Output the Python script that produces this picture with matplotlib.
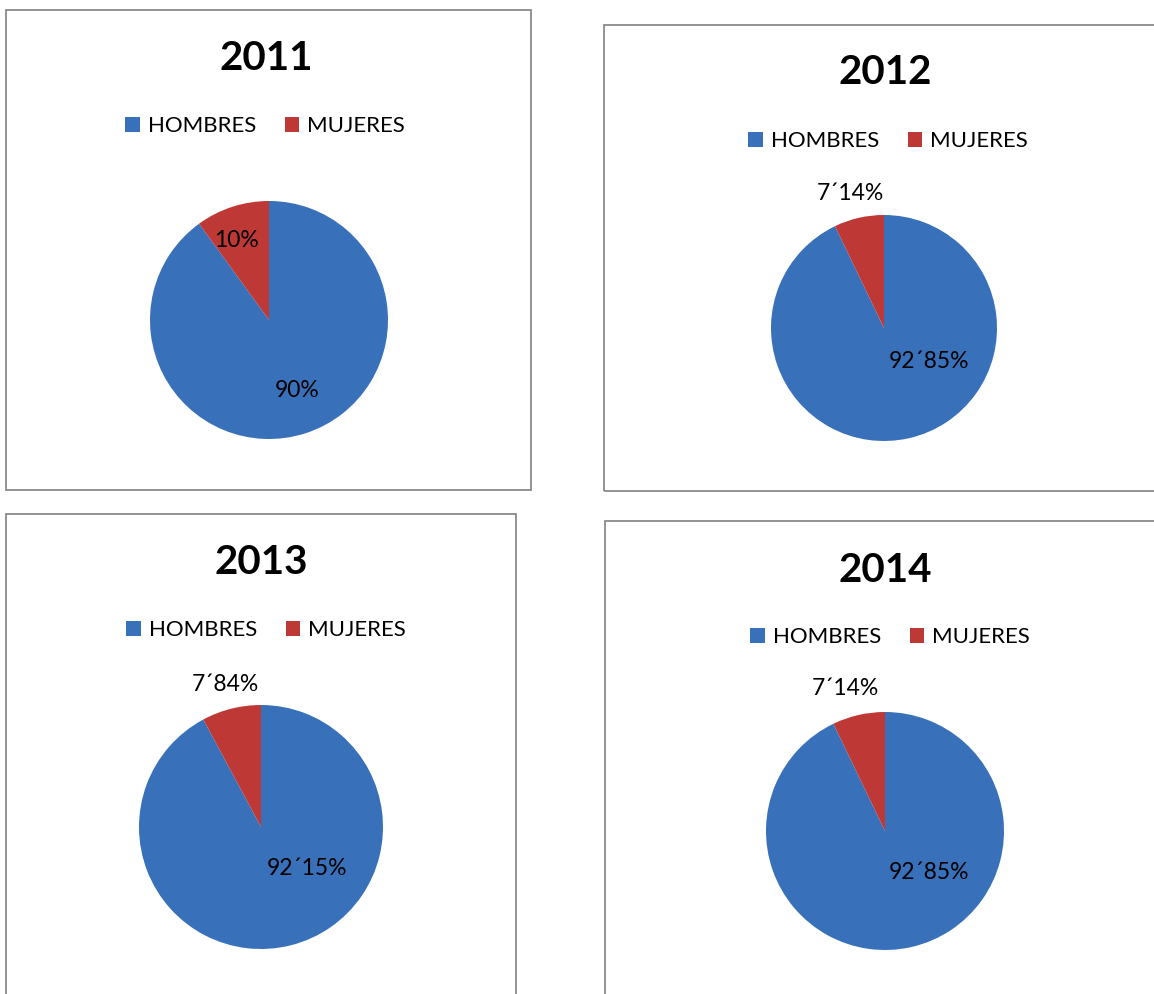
import matplotlib
matplotlib.use('Agg')
import matplotlib.pyplot as plt
from matplotlib.patches import Rectangle, Patch

plt.rcParams['font.family'] = ['Lato', 'DejaVu Sans']

years = ['2011', '2012', '2013', '2014']
categories = ['HOMBRES', 'MUJERES']
hombres = [90, 92.85, 92.15, 92.85]
mujeres = [10, 7.14, 7.84, 7.14]
hombres_lbl = ['90%', '92´85%', '92´15%', '92´85%']
mujeres_lbl = ['10%', '7´14%', '7´84%', '7´14%']

colors = ['#3870BA', '#BE3835']

W, H = 1154, 994
fig = plt.figure(figsize=(W / 100, H / 100), dpi=100)

# layout in pixels: panel box (x0, y0, x1, y1), pie centre, radius, title, legend
boxes = [(6, 10, 531, 490), (604, 25, 1170, 491), (6, 514, 516, 1010), (605, 521, 1170, 1010)]
centres = [(269, 320), (884, 328), (261, 827), (885, 831)]
radii = [119, 113, 122, 119]
title_pos = [(266, 58), (885, 73), (261, 563), (885, 571)]
legend_pos = [(265, 126), (888, 141), (266, 630), (890, 637)]
# label positions in pie radius units
lab_h = [(0.24, -0.59), (0.40, -0.30), (0.38, -0.34), (0.37, -0.35)]
lab_m = [(-0.27, 0.67), (-0.30, 1.19), (-0.29, 1.17), (-0.33, 1.20)]

def fx(x):
    return x / W

def fy(y):
    return 1 - y / H

for i in range(len(years)):
    x0, y0, x1, y1 = boxes[i]
    fig.patches.append(Rectangle((fx(x0), fy(y1)), fx(x1 - x0), (y1 - y0) / H,
                                 transform=fig.transFigure, fill=False,
                                 edgecolor='#8a8a8a', linewidth=1.3))

    cx, cy = centres[i]
    r = radii[i]
    ax = fig.add_axes([fx(cx - r), fy(cy + r), 2 * r / W, 2 * r / H])
    ax.pie([hombres[i], mujeres[i]], colors=colors, startangle=90,
           counterclock=False, radius=1, wedgeprops={'linewidth': 0})
    ax.set_xlim(-1, 1)
    ax.set_ylim(-1, 1)
    ax.axis('off')
    ax.text(lab_h[i][0], lab_h[i][1], hombres_lbl[i], ha='center', va='center',
            fontsize=16.5, color='black', clip_on=False)
    ax.text(lab_m[i][0], lab_m[i][1], mujeres_lbl[i], ha='center', va='center',
            fontsize=16.5, color='black', clip_on=False)

    tx, ty = title_pos[i]
    fig.text(fx(tx), fy(ty), years[i], ha='center', va='center',
             fontsize=29, fontweight='bold')

    lx, ly = legend_pos[i]
    handles = [Patch(facecolor=colors[0]), Patch(facecolor=colors[1])]
    fig.legend(handles, categories, loc='center', bbox_to_anchor=(fx(lx), fy(ly)),
               ncol=2, frameon=False, fontsize=16, handlelength=0.65,
               handleheight=0.65, handletextpad=0.35, columnspacing=1.3)

fig.savefig('out.png', dpi=100)
